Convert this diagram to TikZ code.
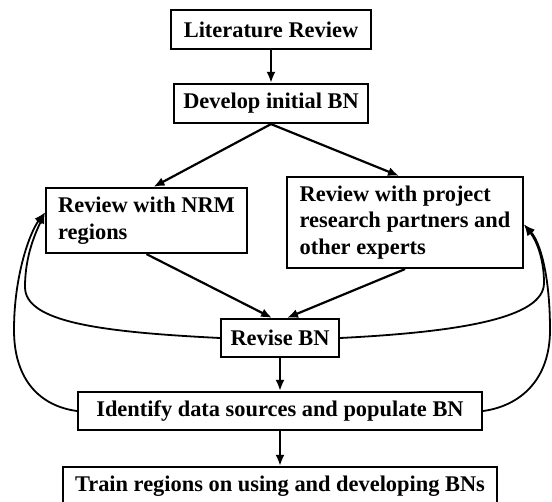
\documentclass[tikz,border=0pt]{standalone}
\usepackage{fontspec}
\setmainfont{Liberation Serif}
\usetikzlibrary{arrows.meta,positioning}
\tikzstyle{block} = [draw, rectangle, line width=2.2pt, inner sep=3pt, font=\fontsize{22.4}{26.8}\selectfont\bfseries]
\tikzstyle{loop} = [line width=1.8pt]

\begin{document}
\begin{tikzpicture}[x=1pt, y=-1pt, line width=2.2pt, >={Latex[length=11pt,width=9pt]}]

\useasboundingbox (0,0) rectangle (552,502);

\node [block, minimum width=200pt, minimum height=39pt] (lit) at (271,29.5) {Literature Review};
\node [block, below of=lit, node distance=74pt, minimum width=194pt, minimum height=39pt] (dev) {Develop initial BN};
\node [block, align=left, minimum width=201pt, minimum height=65pt] (nrm) at (146.5,220.5) {Review with NRM\\regions};
\node [block, align=left, minimum width=236pt, minimum height=91pt] (proj) at (405,222.5) {Review with project\\research partners and\\other experts};
\node [block, minimum width=118pt, minimum height=38pt] (rev) at (280,338) {Revise BN};
\node [block, below of=rev, node distance=73pt, minimum width=404pt, minimum height=38pt] (ident) {Identify data sources and populate BN};
\node [block, below of=ident, node distance=75.5pt, minimum width=434pt, minimum height=39pt] (train) {Train regions on using and developing BNs};

\draw [->] (lit) -- (dev);
\draw [->] (dev.south) -- ([xshift=7pt]nrm.north);
\draw [->] (dev.south) -- ([xshift=-6pt]proj.north);
\draw [->] (nrm.south) -- ([xshift=-8pt]rev.north);
\draw [->] (proj.south) -- ([xshift=7pt]rev.north);
\draw [->] (rev) -- (ident);
\draw [->] (ident) -- (train);

% feedback loops
\draw [loop, ->] (rev.west) .. controls (100,332) and (25,322) .. (25,287) .. controls (25,255) and (36,232) .. ([yshift=8pt]nrm.west);
\draw [loop, ->] (ident.west) .. controls (40,406) and (14,380) .. (14,330) .. controls (14,275) and (30,232) .. ([yshift=8pt]nrm.west);
\draw [loop, ->] (rev.east) .. controls (460,332) and (544,318) .. (544,283) .. controls (544,258) and (536,240) .. ([yshift=-2pt]proj.east);
\draw [loop, ->] (ident.east) .. controls (520,406) and (550,380) .. (550,330) .. controls (550,275) and (540,242) .. ([yshift=-2pt]proj.east);

\end{tikzpicture}
\end{document}
